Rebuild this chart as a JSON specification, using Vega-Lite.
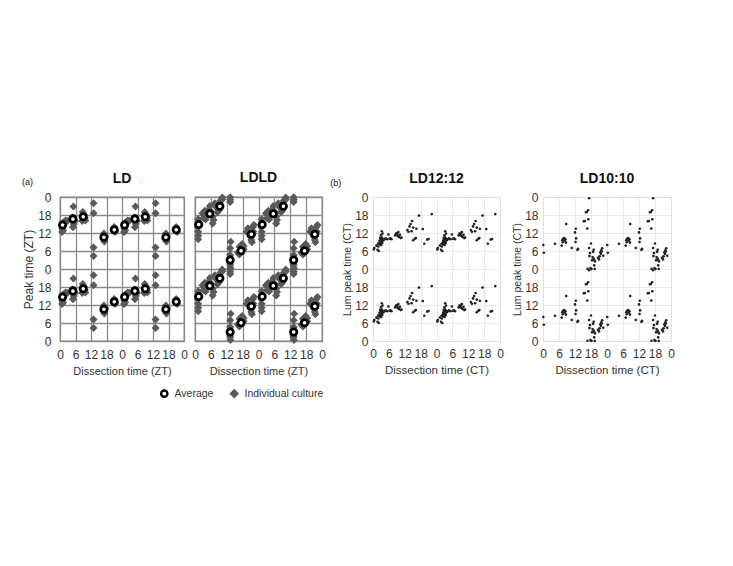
{
"$schema":"https://vega.github.io/schema/vega-lite/v6.json",
"background":"white",
"padding":{"left":22,"top":170,"right":5,"bottom":5},
"spacing":4,
"config":{
 "font":"Liberation Sans",
 "title":{"fontSize":14,"fontWeight":"bold","offset":5,"color":"#111","font":"Liberation Sans"},
 "axis":{"labelFont":"Liberation Sans","titleFont":"Liberation Sans","labelColor":"#333","titleColor":"#333","titleFontWeight":"normal","labelFontSize":12,"labelOverlap":false,"labelFlush":false,"labelBound":false,"ticks":false,"domain":false}
},
"datasets":{
"ld_ind":[
{"x":0.8,"y":12.3},{"x":24.8,"y":12.3},{"x":0.8,"y":36.3},{"x":24.8,"y":36.3},
{"x":1.2,"y":12.8},{"x":25.2,"y":12.8},{"x":1.2,"y":36.8},{"x":25.2,"y":36.8},
{"x":0.9,"y":13.4},{"x":24.9,"y":13.4},{"x":0.9,"y":37.4},{"x":24.9,"y":37.4},
{"x":1,"y":15},{"x":25,"y":15},{"x":1,"y":39},{"x":25,"y":39},
{"x":1.5,"y":15.6},{"x":25.5,"y":15.6},{"x":1.5,"y":39.6},{"x":25.5,"y":39.6},
{"x":2.2,"y":16.2},{"x":26.2,"y":16.2},{"x":2.2,"y":40.2},{"x":26.2,"y":40.2},
{"x":2.8,"y":16},{"x":26.8,"y":16},{"x":2.8,"y":40},{"x":26.8,"y":40},
{"x":5.2,"y":20.8},{"x":29.2,"y":20.8},{"x":5.2,"y":44.8},{"x":29.2,"y":44.8},
{"x":5,"y":13.9},{"x":29,"y":13.9},{"x":5,"y":37.9},{"x":29,"y":37.9},
{"x":5.3,"y":15},{"x":29.3,"y":15},{"x":5.3,"y":39},{"x":29.3,"y":39},
{"x":5.8,"y":16},{"x":29.8,"y":16},{"x":5.8,"y":40},{"x":29.8,"y":40},
{"x":4.8,"y":17.2},{"x":28.8,"y":17.2},{"x":4.8,"y":41.2},{"x":28.8,"y":41.2},
{"x":8.8,"y":19},{"x":32.8,"y":19},{"x":8.8,"y":43},{"x":32.8,"y":43},
{"x":9.2,"y":18.2},{"x":33.2,"y":18.2},{"x":9.2,"y":42.2},{"x":33.2,"y":42.2},
{"x":9.6,"y":17},{"x":33.6,"y":17},{"x":9.6,"y":41},{"x":33.6,"y":41},
{"x":9.8,"y":16.2},{"x":33.8,"y":16.2},{"x":9.8,"y":40.2},{"x":33.8,"y":40.2},
{"x":8.6,"y":16},{"x":32.6,"y":16},{"x":8.6,"y":40},{"x":32.6,"y":40},
{"x":13,"y":21.9},{"x":37,"y":21.9},{"x":13,"y":45.9},{"x":37,"y":45.9},
{"x":13,"y":18.6},{"x":37,"y":18.6},{"x":13,"y":42.6},{"x":37,"y":42.6},
{"x":13,"y":7.2},{"x":37,"y":7.2},{"x":13,"y":31.2},{"x":37,"y":31.2},
{"x":13,"y":4.3},{"x":37,"y":4.3},{"x":13,"y":28.3},{"x":37,"y":28.3},
{"x":17,"y":11.8},{"x":41,"y":11.8},{"x":17,"y":35.8},{"x":41,"y":35.8},
{"x":17.2,"y":9.2},{"x":41.2,"y":9.2},{"x":17.2,"y":33.2},{"x":41.2,"y":33.2},
{"x":16.8,"y":10},{"x":40.8,"y":10},{"x":16.8,"y":34},{"x":40.8,"y":34},
{"x":17.4,"y":11},{"x":41.4,"y":11},{"x":17.4,"y":35},{"x":41.4,"y":35},
{"x":21,"y":14},{"x":45,"y":14},{"x":21,"y":38},{"x":45,"y":38},
{"x":21.3,"y":12.3},{"x":45.3,"y":12.3},{"x":21.3,"y":36.3},{"x":45.3,"y":36.3},
{"x":20.8,"y":13.5},{"x":44.8,"y":13.5},{"x":20.8,"y":37.5},{"x":44.8,"y":37.5}
],
"ld_avg":[
{"x":1,"y":14.7},{"x":25,"y":14.7},{"x":1,"y":38.7},{"x":25,"y":38.7},
{"x":5,"y":16.7},{"x":29,"y":16.7},{"x":5,"y":40.7},{"x":29,"y":40.7},
{"x":9,"y":17.4},{"x":33,"y":17.4},{"x":9,"y":41.4},{"x":33,"y":41.4},
{"x":17,"y":10.6},{"x":41,"y":10.6},{"x":17,"y":34.6},{"x":41,"y":34.6},
{"x":21,"y":13.1},{"x":45,"y":13.1},{"x":21,"y":37.1},{"x":45,"y":37.1}
],
"ldld_ind":[
{"x":1.2,"y":16.6},{"x":25.2,"y":16.6},{"x":1.2,"y":40.6},{"x":25.2,"y":40.6},
{"x":1.2,"y":12.4},{"x":25.2,"y":12.4},{"x":1.2,"y":36.4},{"x":25.2,"y":36.4},
{"x":1.2,"y":11.1},{"x":25.2,"y":11.1},{"x":1.2,"y":35.1},{"x":25.2,"y":35.1},
{"x":1.2,"y":9.9},{"x":25.2,"y":9.9},{"x":1.2,"y":33.9},{"x":25.2,"y":33.9},
{"x":1,"y":14},{"x":25,"y":14},{"x":1,"y":38},{"x":25,"y":38},
{"x":2.8,"y":18.6},{"x":26.8,"y":18.6},{"x":2.8,"y":42.6},{"x":26.8,"y":42.6},
{"x":3.7,"y":19.4},{"x":27.7,"y":19.4},{"x":3.7,"y":43.4},{"x":27.7,"y":43.4},
{"x":4.4,"y":18.6},{"x":28.4,"y":18.6},{"x":4.4,"y":42.6},{"x":28.4,"y":42.6},
{"x":5.2,"y":19.9},{"x":29.2,"y":19.9},{"x":5.2,"y":43.9},{"x":29.2,"y":43.9},
{"x":5.6,"y":21},{"x":29.6,"y":21},{"x":5.6,"y":45},{"x":29.6,"y":45},
{"x":6,"y":19.2},{"x":30,"y":19.2},{"x":6,"y":43.2},{"x":30,"y":43.2},
{"x":6.7,"y":17.4},{"x":30.7,"y":17.4},{"x":6.7,"y":41.4},{"x":30.7,"y":41.4},
{"x":6.7,"y":15.2},{"x":30.7,"y":15.2},{"x":6.7,"y":39.2},{"x":30.7,"y":39.2},
{"x":7,"y":16.3},{"x":31,"y":16.3},{"x":7,"y":40.3},{"x":31,"y":40.3},
{"x":8,"y":20.6},{"x":32,"y":20.6},{"x":8,"y":44.6},{"x":32,"y":44.6},
{"x":8.5,"y":18.9},{"x":32.5,"y":18.9},{"x":8.5,"y":42.9},{"x":32.5,"y":42.9},
{"x":7.5,"y":21.9},{"x":31.5,"y":21.9},{"x":7.5,"y":45.9},{"x":31.5,"y":45.9},
{"x":9.6,"y":22.8},{"x":33.6,"y":22.8},{"x":9.6,"y":46.8},{"x":33.6,"y":46.8},
{"x":10.3,"y":23.8},{"x":34.3,"y":23.8},{"x":10.3,"y":47.8},{"x":34.3,"y":47.8},
{"x":10.3,"y":23.2},{"x":34.3,"y":23.2},{"x":10.3,"y":47.2},{"x":34.3,"y":47.2},
{"x":9,"y":19.5},{"x":33,"y":19.5},{"x":9,"y":43.5},{"x":33,"y":43.5},
{"x":3.2,"y":17},{"x":27.2,"y":17},{"x":3.2,"y":41},{"x":27.2,"y":41},
{"x":4,"y":16.5},{"x":28,"y":16.5},{"x":4,"y":40.5},{"x":28,"y":40.5},
{"x":13.3,"y":23.9},{"x":37.3,"y":23.9},{"x":13.3,"y":47.9},{"x":37.3,"y":47.9},
{"x":13.3,"y":23.1},{"x":37.3,"y":23.1},{"x":13.3,"y":47.1},{"x":37.3,"y":47.1},
{"x":13.3,"y":22.3},{"x":37.3,"y":22.3},{"x":13.3,"y":46.3},{"x":37.3,"y":46.3},
{"x":13.5,"y":9.1},{"x":37.5,"y":9.1},{"x":13.5,"y":33.1},{"x":37.5,"y":33.1},
{"x":13.3,"y":6.9},{"x":37.3,"y":6.9},{"x":13.3,"y":30.9},{"x":37.3,"y":30.9},
{"x":13.3,"y":4.7},{"x":37.3,"y":4.7},{"x":13.3,"y":28.7},{"x":37.3,"y":28.7},
{"x":13.3,"y":1.3},{"x":37.3,"y":1.3},{"x":13.3,"y":25.3},{"x":37.3,"y":25.3},
{"x":13.4,"y":0.3},{"x":37.4,"y":0.3},{"x":13.4,"y":24.3},{"x":37.4,"y":24.3},
{"x":13.2,"y":2},{"x":37.2,"y":2},{"x":13.2,"y":26},{"x":37.2,"y":26},
{"x":16.8,"y":7.4},{"x":40.8,"y":7.4},{"x":16.8,"y":31.4},{"x":40.8,"y":31.4},
{"x":17.8,"y":7},{"x":41.8,"y":7},{"x":17.8,"y":31},{"x":41.8,"y":31},
{"x":18.4,"y":7.6},{"x":42.4,"y":7.6},{"x":18.4,"y":31.6},{"x":42.4,"y":31.6},
{"x":16.2,"y":5.4},{"x":40.2,"y":5.4},{"x":16.2,"y":29.4},{"x":40.2,"y":29.4},
{"x":16.8,"y":4.8},{"x":40.8,"y":4.8},{"x":16.8,"y":28.8},{"x":40.8,"y":28.8},
{"x":18.4,"y":6.6},{"x":42.4,"y":6.6},{"x":18.4,"y":30.6},{"x":42.4,"y":30.6},
{"x":17.2,"y":5.5},{"x":41.2,"y":5.5},{"x":17.2,"y":29.5},{"x":41.2,"y":29.5},
{"x":17.8,"y":8.3},{"x":41.8,"y":8.3},{"x":17.8,"y":32.3},{"x":41.8,"y":32.3},
{"x":20,"y":13.6},{"x":44,"y":13.6},{"x":20,"y":37.6},{"x":44,"y":37.6},
{"x":19.5,"y":12.4},{"x":43.5,"y":12.4},{"x":19.5,"y":36.4},{"x":43.5,"y":36.4},
{"x":21.3,"y":9.7},{"x":45.3,"y":9.7},{"x":21.3,"y":33.7},{"x":45.3,"y":33.7},
{"x":21.5,"y":8.9},{"x":45.5,"y":8.9},{"x":21.5,"y":32.9},{"x":45.5,"y":32.9},
{"x":21.8,"y":13.9},{"x":45.8,"y":13.9},{"x":21.8,"y":37.9},{"x":45.8,"y":37.9},
{"x":22.3,"y":14.7},{"x":46.3,"y":14.7},{"x":22.3,"y":38.7},{"x":46.3,"y":38.7},
{"x":20.8,"y":10.9},{"x":44.8,"y":10.9},{"x":20.8,"y":34.9},{"x":44.8,"y":34.9},
{"x":22,"y":12.5},{"x":46,"y":12.5},{"x":22,"y":36.5},{"x":46,"y":36.5}
],
"ldld_avg":[
{"x":1.4,"y":14.8},{"x":25.4,"y":14.8},{"x":1.4,"y":38.8},{"x":25.4,"y":38.8},
{"x":5.6,"y":18.4},{"x":29.6,"y":18.4},{"x":5.6,"y":42.4},{"x":29.6,"y":42.4},
{"x":9.4,"y":20.9},{"x":33.4,"y":20.9},{"x":9.4,"y":44.9},{"x":33.4,"y":44.9},
{"x":13.3,"y":3},{"x":37.3,"y":3},{"x":13.3,"y":27},{"x":37.3,"y":27},
{"x":17.4,"y":6.1},{"x":41.4,"y":6.1},{"x":17.4,"y":30.1},{"x":41.4,"y":30.1},
{"x":21.3,"y":11.6},{"x":45.3,"y":11.6},{"x":21.3,"y":35.6},{"x":45.3,"y":35.6}
],
"ld12":[
{"x":0.3,"y":6.5},{"x":24.3,"y":6.5},{"x":0.3,"y":30.5},{"x":24.3,"y":30.5},
{"x":0.5,"y":7},{"x":24.5,"y":7},{"x":0.5,"y":31},{"x":24.5,"y":31},
{"x":1.3,"y":7.8},{"x":25.3,"y":7.8},{"x":1.3,"y":31.8},{"x":25.3,"y":31.8},
{"x":1.7,"y":6.4},{"x":25.7,"y":6.4},{"x":1.7,"y":30.4},{"x":25.7,"y":30.4},
{"x":1.9,"y":8.4},{"x":25.9,"y":8.4},{"x":1.9,"y":32.4},{"x":25.9,"y":32.4},
{"x":2,"y":7.5},{"x":26,"y":7.5},{"x":2,"y":31.5},{"x":26,"y":31.5},
{"x":2.2,"y":6},{"x":26.2,"y":6},{"x":2.2,"y":30},{"x":26.2,"y":30},
{"x":2.4,"y":8.8},{"x":26.4,"y":8.8},{"x":2.4,"y":32.8},{"x":26.4,"y":32.8},
{"x":2.5,"y":9.5},{"x":26.5,"y":9.5},{"x":2.5,"y":33.5},{"x":26.5,"y":33.5},
{"x":2.6,"y":8.2},{"x":26.6,"y":8.2},{"x":2.6,"y":32.2},{"x":26.6,"y":32.2},
{"x":2.7,"y":10.3},{"x":26.7,"y":10.3},{"x":2.7,"y":34.3},{"x":26.7,"y":34.3},
{"x":2.8,"y":9},{"x":26.8,"y":9},{"x":2.8,"y":33},{"x":26.8,"y":33},
{"x":2.9,"y":8.5},{"x":26.9,"y":8.5},{"x":2.9,"y":32.5},{"x":26.9,"y":32.5},
{"x":3,"y":9.8},{"x":27,"y":9.8},{"x":3,"y":33.8},{"x":27,"y":33.8},
{"x":3,"y":11.2},{"x":27,"y":11.2},{"x":3,"y":35.2},{"x":27,"y":35.2},
{"x":3.1,"y":8},{"x":27.1,"y":8},{"x":3.1,"y":32},{"x":27.1,"y":32},
{"x":3.2,"y":10.6},{"x":27.2,"y":10.6},{"x":3.2,"y":34.6},{"x":27.2,"y":34.6},
{"x":3.3,"y":9.3},{"x":27.3,"y":9.3},{"x":3.3,"y":33.3},{"x":27.3,"y":33.3},
{"x":3.3,"y":12.6},{"x":27.3,"y":12.6},{"x":3.3,"y":36.6},{"x":27.3,"y":36.6},
{"x":3.5,"y":8.7},{"x":27.5,"y":8.7},{"x":3.5,"y":32.7},{"x":27.5,"y":32.7},
{"x":3.5,"y":10.1},{"x":27.5,"y":10.1},{"x":3.5,"y":34.1},{"x":27.5,"y":34.1},
{"x":3.6,"y":11.8},{"x":27.6,"y":11.8},{"x":3.6,"y":35.8},{"x":27.6,"y":35.8},
{"x":3.8,"y":9.5},{"x":27.8,"y":9.5},{"x":3.8,"y":33.5},{"x":27.8,"y":33.5},
{"x":4,"y":10},{"x":28,"y":10},{"x":4,"y":34},{"x":28,"y":34},
{"x":4.2,"y":9.8},{"x":28.2,"y":9.8},{"x":4.2,"y":33.8},{"x":28.2,"y":33.8},
{"x":4.8,"y":10.2},{"x":28.8,"y":10.2},{"x":4.8,"y":34.2},{"x":28.8,"y":34.2},
{"x":5.3,"y":9.9},{"x":29.3,"y":9.9},{"x":5.3,"y":33.9},{"x":29.3,"y":33.9},
{"x":5.8,"y":11.5},{"x":29.8,"y":11.5},{"x":5.8,"y":35.5},{"x":29.8,"y":35.5},
{"x":6.2,"y":10.1},{"x":30.2,"y":10.1},{"x":6.2,"y":34.1},{"x":30.2,"y":34.1},
{"x":6.6,"y":10.2},{"x":30.6,"y":10.2},{"x":6.6,"y":34.2},{"x":30.6,"y":34.2},
{"x":7,"y":9.9},{"x":31,"y":9.9},{"x":7,"y":33.9},{"x":31,"y":33.9},
{"x":8.4,"y":11.2},{"x":32.4,"y":11.2},{"x":8.4,"y":35.2},{"x":32.4,"y":35.2},
{"x":8.7,"y":11.8},{"x":32.7,"y":11.8},{"x":8.7,"y":35.8},{"x":32.7,"y":35.8},
{"x":9,"y":11.5},{"x":33,"y":11.5},{"x":9,"y":35.5},{"x":33,"y":35.5},
{"x":9.2,"y":12},{"x":33.2,"y":12},{"x":9.2,"y":36},{"x":33.2,"y":36},
{"x":9.4,"y":11},{"x":33.4,"y":11},{"x":9.4,"y":35},{"x":33.4,"y":35},
{"x":9.6,"y":12.3},{"x":33.6,"y":12.3},{"x":9.6,"y":36.3},{"x":33.6,"y":36.3},
{"x":9.8,"y":10.7},{"x":33.8,"y":10.7},{"x":9.8,"y":34.7},{"x":33.8,"y":34.7},
{"x":10.2,"y":11.4},{"x":34.2,"y":11.4},{"x":10.2,"y":35.4},{"x":34.2,"y":35.4},
{"x":10.5,"y":10.3},{"x":34.5,"y":10.3},{"x":10.5,"y":34.3},{"x":34.5,"y":34.3},
{"x":10.8,"y":10.5},{"x":34.8,"y":10.5},{"x":10.8,"y":34.5},{"x":34.8,"y":34.5},
{"x":13,"y":13},{"x":37,"y":13},{"x":13,"y":37},{"x":37,"y":37},
{"x":13.4,"y":12.4},{"x":37.4,"y":12.4},{"x":13.4,"y":36.4},{"x":37.4,"y":36.4},
{"x":13.8,"y":14.2},{"x":37.8,"y":14.2},{"x":13.8,"y":38.2},{"x":37.8,"y":38.2},
{"x":14.2,"y":15},{"x":38.2,"y":15},{"x":14.2,"y":39},{"x":38.2,"y":39},
{"x":14.6,"y":12.6},{"x":38.6,"y":12.6},{"x":14.6,"y":36.6},{"x":38.6,"y":36.6},
{"x":14.8,"y":16},{"x":38.8,"y":16},{"x":14.8,"y":40},{"x":38.8,"y":40},
{"x":15.2,"y":13.8},{"x":39.2,"y":13.8},{"x":15.2,"y":37.8},{"x":39.2,"y":37.8},
{"x":15.2,"y":9.6},{"x":39.2,"y":9.6},{"x":15.2,"y":33.6},{"x":39.2,"y":33.6},
{"x":15.8,"y":10.1},{"x":39.8,"y":10.1},{"x":15.8,"y":34.1},{"x":39.8,"y":34.1},
{"x":16.2,"y":10.3},{"x":40.2,"y":10.3},{"x":16.2,"y":34.3},{"x":40.2,"y":34.3},
{"x":16.4,"y":13.4},{"x":40.4,"y":13.4},{"x":16.4,"y":37.4},{"x":40.4,"y":37.4},
{"x":17.4,"y":17.8},{"x":41.4,"y":17.8},{"x":17.4,"y":41.8},{"x":41.4,"y":41.8},
{"x":18.8,"y":13.3},{"x":42.8,"y":13.3},{"x":18.8,"y":37.3},{"x":42.8,"y":37.3},
{"x":19.4,"y":8.4},{"x":43.4,"y":8.4},{"x":19.4,"y":32.4},{"x":43.4,"y":32.4},
{"x":20.5,"y":9.8},{"x":44.5,"y":9.8},{"x":20.5,"y":33.8},{"x":44.5,"y":33.8},
{"x":21,"y":10},{"x":45,"y":10},{"x":21,"y":34},{"x":45,"y":34},
{"x":22.2,"y":18.3},{"x":46.2,"y":18.3},{"x":22.2,"y":42.3},{"x":46.2,"y":42.3}
],
"ld10":[
{"x":0.1,"y":8},{"x":24.1,"y":8},{"x":0.1,"y":32},{"x":24.1,"y":32},
{"x":0.3,"y":5.4},{"x":24.3,"y":5.4},{"x":0.3,"y":29.4},{"x":24.3,"y":29.4},
{"x":4.5,"y":8.4},{"x":28.5,"y":8.4},{"x":4.5,"y":32.4},{"x":28.5,"y":32.4},
{"x":7.2,"y":9.6},{"x":31.2,"y":9.6},{"x":7.2,"y":33.6},{"x":31.2,"y":33.6},
{"x":7.5,"y":10.1},{"x":31.5,"y":10.1},{"x":7.5,"y":34.1},{"x":31.5,"y":34.1},
{"x":7.8,"y":9.8},{"x":31.8,"y":9.8},{"x":7.8,"y":33.8},{"x":31.8,"y":33.8},
{"x":8,"y":10.3},{"x":32,"y":10.3},{"x":8,"y":34.3},{"x":32,"y":34.3},
{"x":8.2,"y":9.4},{"x":32.2,"y":9.4},{"x":8.2,"y":33.4},{"x":32.2,"y":33.4},
{"x":8.4,"y":9.9},{"x":32.4,"y":9.9},{"x":8.4,"y":33.9},{"x":32.4,"y":33.9},
{"x":7.4,"y":8.9},{"x":31.4,"y":8.9},{"x":7.4,"y":32.9},{"x":31.4,"y":32.9},
{"x":8.6,"y":8.8},{"x":32.6,"y":8.8},{"x":8.6,"y":32.8},{"x":32.6,"y":32.8},
{"x":7,"y":7.8},{"x":31,"y":7.8},{"x":7,"y":31.8},{"x":31,"y":31.8},
{"x":8.7,"y":15},{"x":32.7,"y":15},{"x":8.7,"y":39},{"x":32.7,"y":39},
{"x":10.8,"y":7},{"x":34.8,"y":7},{"x":10.8,"y":31},{"x":34.8,"y":31},
{"x":12,"y":12.2},{"x":36,"y":12.2},{"x":12,"y":36.2},{"x":36,"y":36.2},
{"x":12.3,"y":13.4},{"x":36.3,"y":13.4},{"x":12.3,"y":37.4},{"x":36.3,"y":37.4},
{"x":12.4,"y":10.2},{"x":36.4,"y":10.2},{"x":12.4,"y":34.2},{"x":36.4,"y":34.2},
{"x":12.2,"y":9},{"x":36.2,"y":9},{"x":12.2,"y":33},{"x":36.2,"y":33},
{"x":12.9,"y":6.4},{"x":36.9,"y":6.4},{"x":12.9,"y":30.4},{"x":36.9,"y":30.4},
{"x":13.2,"y":6.7},{"x":37.2,"y":6.7},{"x":13.2,"y":30.7},{"x":37.2,"y":30.7},
{"x":15.3,"y":15.9},{"x":39.3,"y":15.9},{"x":15.3,"y":39.9},{"x":39.3,"y":39.9},
{"x":15.7,"y":16},{"x":39.7,"y":16},{"x":15.7,"y":40},{"x":39.7,"y":40},
{"x":16.1,"y":18.9},{"x":40.1,"y":18.9},{"x":16.1,"y":42.9},{"x":40.1,"y":42.9},
{"x":16.4,"y":19},{"x":40.4,"y":19},{"x":16.4,"y":43},{"x":40.4,"y":43},
{"x":16.9,"y":19.6},{"x":40.9,"y":19.6},{"x":16.9,"y":43.6},{"x":40.9,"y":43.6},
{"x":16.6,"y":13.5},{"x":40.6,"y":13.5},{"x":16.6,"y":37.5},{"x":40.6,"y":37.5},
{"x":17,"y":16.6},{"x":41,"y":16.6},{"x":17,"y":40.6},{"x":41,"y":40.6},
{"x":17.3,"y":23.6},{"x":41.3,"y":23.6},{"x":17.3,"y":47.6},{"x":41.3,"y":47.6},
{"x":16.7,"y":0.1},{"x":40.7,"y":0.1},{"x":16.7,"y":24.1},{"x":40.7,"y":24.1},
{"x":17.3,"y":7},{"x":41.3,"y":7},{"x":17.3,"y":31},{"x":41.3,"y":31},
{"x":17.6,"y":5.3},{"x":41.6,"y":5.3},{"x":17.6,"y":29.3},{"x":41.6,"y":29.3},
{"x":17.4,"y":4.3},{"x":41.4,"y":4.3},{"x":17.4,"y":28.3},{"x":41.4,"y":28.3},
{"x":17.8,"y":0.3},{"x":41.8,"y":0.3},{"x":17.8,"y":24.3},{"x":41.8,"y":24.3},
{"x":18.2,"y":0},{"x":42.2,"y":0},{"x":18.2,"y":24},{"x":42.2,"y":24},
{"x":18,"y":8.5},{"x":42,"y":8.5},{"x":18,"y":32.5},{"x":42,"y":32.5},
{"x":18.4,"y":2.9},{"x":42.4,"y":2.9},{"x":18.4,"y":26.9},{"x":42.4,"y":26.9},
{"x":18.6,"y":4},{"x":42.6,"y":4},{"x":18.6,"y":28},{"x":42.6,"y":28},
{"x":18.8,"y":5.7},{"x":42.8,"y":5.7},{"x":18.8,"y":29.7},{"x":42.8,"y":29.7},
{"x":19,"y":3.5},{"x":43,"y":3.5},{"x":19,"y":27.5},{"x":43,"y":27.5},
{"x":19.2,"y":3},{"x":43.2,"y":3},{"x":19.2,"y":27},{"x":43.2,"y":27},
{"x":19.2,"y":1.2},{"x":43.2,"y":1.2},{"x":19.2,"y":25.2},{"x":43.2,"y":25.2},
{"x":19.5,"y":2.5},{"x":43.5,"y":2.5},{"x":19.5,"y":26.5},{"x":43.5,"y":26.5},
{"x":19.4,"y":0},{"x":43.4,"y":0},{"x":19.4,"y":24},{"x":43.4,"y":24},
{"x":19,"y":6.4},{"x":43,"y":6.4},{"x":19,"y":30.4},{"x":43,"y":30.4},
{"x":20.6,"y":3.7},{"x":44.6,"y":3.7},{"x":20.6,"y":27.7},{"x":44.6,"y":27.7},
{"x":21.2,"y":4.2},{"x":45.2,"y":4.2},{"x":21.2,"y":28.2},{"x":45.2,"y":28.2},
{"x":21.5,"y":5.6},{"x":45.5,"y":5.6},{"x":21.5,"y":29.6},{"x":45.5,"y":29.6},
{"x":21.7,"y":5},{"x":45.7,"y":5},{"x":21.7,"y":29},{"x":45.7,"y":29},
{"x":21.9,"y":6.2},{"x":45.9,"y":6.2},{"x":21.9,"y":30.2},{"x":45.9,"y":30.2},
{"x":22.2,"y":6.9},{"x":46.2,"y":6.9},{"x":22.2,"y":30.9},{"x":46.2,"y":30.9},
{"x":22.6,"y":4.4},{"x":46.6,"y":4.4},{"x":22.6,"y":28.4},{"x":46.6,"y":28.4},
{"x":21,"y":3.2},{"x":45,"y":3.2},{"x":21,"y":27.2},{"x":45,"y":27.2},
{"x":22,"y":5.8},{"x":46,"y":5.8},{"x":22,"y":29.8},{"x":46,"y":29.8}
]
},
"hconcat":[
{
 "title":{"text":"(a)","anchor":"start","fontSize":9,"fontWeight":"normal","offset":-16,"frame":"bounds","color":"#111"},
 "spacing":1,
 "hconcat":[
  {
   "width":124,"height":144,"title":"LD",
   "view":{"stroke":"#8c8c8c","strokeWidth":1.3},
   "encoding":{
    "x":{"field":"x","type":"quantitative","scale":{"domain":[0,48],"nice":false,"zero":false},
     "axis":{"values":[0,6,12,18,24,30,36,42,48],"labelExpr":"'' + (datum.value % 24)","title":"Dissection time (ZT)","titleFontSize":11,"grid":true,"gridColor":"#8c8c8c","gridWidth":1.3,"labelPadding":8,"titlePadding":5}},
    "y":{"field":"y","type":"quantitative","scale":{"domain":[0,48],"nice":false,"zero":false},
     "axis":{"values":[0,6,12,18,24,30,36,42,48],"labelExpr":"'' + (datum.value % 24)","title":"Peak time (ZT)","titleFontSize":12,"grid":true,"gridColor":"#8c8c8c","gridWidth":1.3,"labelPadding":9,"titlePadding":2}}
   },
   "layer":[
    {"data":{"name":"ld_ind"},"mark":{"type":"point","shape":"diamond","filled":true,"fill":"#5a5a5a","stroke":"#5a5a5a","strokeWidth":2.2,"size":24,"opacity":1}},
    {"data":{"name":"ld_avg"},"mark":{"type":"point","shape":"circle","filled":true,"fill":"white","stroke":"black","strokeWidth":2.8,"size":40,"opacity":1}}
   ]
  },
  {
   "width":127,"height":144,"title":"LDLD",
   "view":{"stroke":"#8c8c8c","strokeWidth":1.3},
   "encoding":{
    "x":{"field":"x","type":"quantitative","scale":{"domain":[0,48],"nice":false,"zero":false},
     "axis":{"values":[0,6,12,18,24,30,36,42,48],"labelExpr":"'' + (datum.value % 24)","title":"Dissection time (ZT)","titleFontSize":11,"grid":true,"gridColor":"#8c8c8c","gridWidth":1.3,"labelPadding":8,"titlePadding":5}},
    "y":{"field":"y","type":"quantitative","scale":{"domain":[0,48],"nice":false,"zero":false},
     "axis":{"values":[0,6,12,18,24,30,36,42,48],"labels":false,"title":null,"grid":true,"gridColor":"#8c8c8c","gridWidth":1.3}}
   },
   "layer":[
    {"data":{"name":"ldld_ind"},"mark":{"type":"point","filled":true,"strokeWidth":2.2,"size":24,"opacity":1},
     "encoding":{
      "shape":{"datum":"Individual culture","scale":{"domain":["Average","Individual culture"],"range":["circle","diamond"]},"legend":{"orient":"none","legendX":99,"legendY":191,"direction":"horizontal","title":null,"labelFontSize":10.5,"labelColor":"#333","labelFont":"Liberation Sans","symbolSize":40,"symbolStrokeWidth":2.4,"columnPadding":12,"labelOffset":5,"padding":0}},
      "fill":{"datum":"Individual culture","scale":{"domain":["Average","Individual culture"],"range":["white","#5a5a5a"]},"legend":{"orient":"none","legendX":99,"legendY":191,"direction":"horizontal","title":null,"labelFontSize":10.5,"labelColor":"#333","labelFont":"Liberation Sans","symbolSize":40,"symbolStrokeWidth":2.4,"columnPadding":12,"labelOffset":5,"padding":0}},
      "stroke":{"datum":"Individual culture","scale":{"domain":["Average","Individual culture"],"range":["black","#5a5a5a"]},"legend":{"orient":"none","legendX":99,"legendY":191,"direction":"horizontal","title":null,"labelFontSize":10.5,"labelColor":"#333","labelFont":"Liberation Sans","symbolSize":40,"symbolStrokeWidth":2.4,"columnPadding":12,"labelOffset":5,"padding":0}}
     }},
    {"data":{"name":"ldld_avg"},"mark":{"type":"point","filled":true,"strokeWidth":2.8,"size":40,"opacity":1},
     "encoding":{
      "shape":{"datum":"Average"},
      "fill":{"datum":"Average"},
      "stroke":{"datum":"Average"}
     }}
   ]
  }
 ]
},
{
 "title":{"text":"(b)","anchor":"start","fontSize":9,"fontWeight":"normal","offset":-16,"frame":"bounds","dx":-12,"color":"#111"},
 "spacing":8,
 "hconcat":[
  {
   "width":127,"height":144,"title":"LD12:12",
   "data":{"name":"ld12"},
   "view":{"stroke":"#d0d0d0"},
   "mark":{"type":"circle","size":7,"color":"#222","opacity":1},
   "encoding":{
    "x":{"field":"x","type":"quantitative","scale":{"domain":[0,48],"nice":false,"zero":false},
     "axis":{"values":[0,6,12,18,24,30,36,42,48],"labelExpr":"'' + (datum.value % 24)","title":"Dissection time (CT)","titleFontSize":11.5,"grid":true,"gridColor":"#e3e3e3","gridWidth":0.8,"labelPadding":7,"titlePadding":5}},
    "y":{"field":"y","type":"quantitative","scale":{"domain":[0,48],"nice":false,"zero":false},
     "axis":{"values":[0,6,12,18,24,30,36,42,48],"labelExpr":"'' + (datum.value % 24)","title":"Lum peak time (CT)","titleFontSize":10.5,"grid":true,"gridColor":"#e3e3e3","gridWidth":0.8,"labelPadding":5,"titlePadding":2}}
   }
  },
  {
   "width":128,"height":144,"title":"LD10:10",
   "data":{"name":"ld10"},
   "view":{"stroke":"#d0d0d0"},
   "mark":{"type":"circle","size":7,"color":"#222","opacity":1},
   "encoding":{
    "x":{"field":"x","type":"quantitative","scale":{"domain":[0,48],"nice":false,"zero":false},
     "axis":{"values":[0,6,12,18,24,30,36,42,48],"labelExpr":"'' + (datum.value % 24)","title":"Dissection time (CT)","titleFontSize":11.5,"grid":true,"gridColor":"#e3e3e3","gridWidth":0.8,"labelPadding":7,"titlePadding":5}},
    "y":{"field":"y","type":"quantitative","scale":{"domain":[0,48],"nice":false,"zero":false},
     "axis":{"values":[0,6,12,18,24,30,36,42,48],"labelExpr":"'' + (datum.value % 24)","title":"Lum peak time (CT)","titleFontSize":10.5,"grid":true,"gridColor":"#e3e3e3","gridWidth":0.8,"labelPadding":5,"titlePadding":2}}
   }
  }
 ]
}
]
}
